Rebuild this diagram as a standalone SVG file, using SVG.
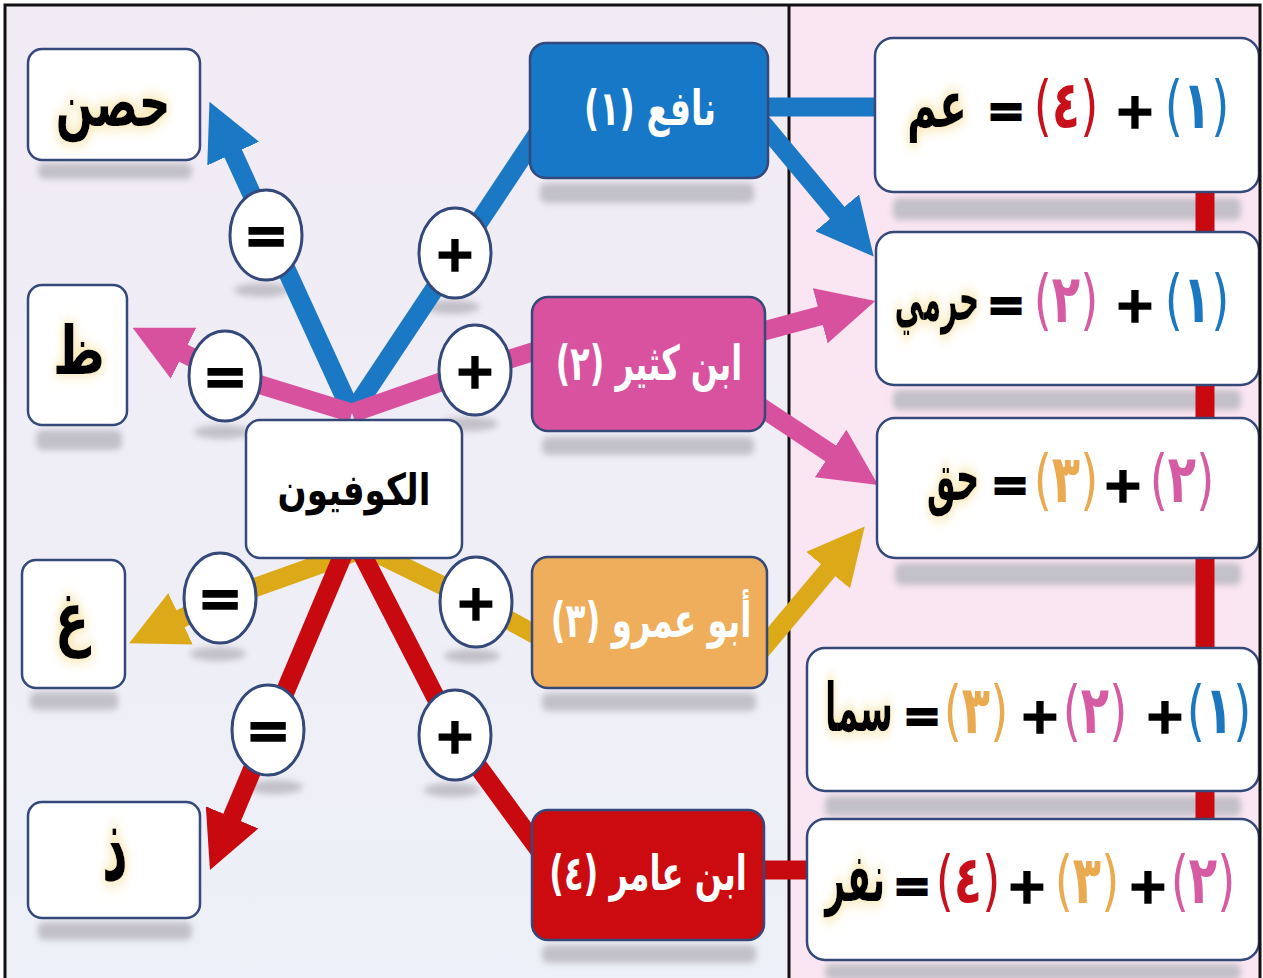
<svg xmlns="http://www.w3.org/2000/svg" width="1263" height="978" viewBox="0 0 1263 978">
<defs>
<style>
.ar{font-family:"DejaVu Sans",sans-serif;font-weight:bold;text-anchor:middle}
.blk{fill:#000}
.wht{fill:#fff}
.wbox{fill:#fff;stroke:#34487a;stroke-width:2.5}
.cbox{stroke:#34487a;stroke-width:2.5}
.shd{fill:#c2c0c8;filter:url(#blur)}
.cir{fill:#fff;stroke:#34487a;stroke-width:3}
.op{font-family:"DejaVu Sans",sans-serif;font-weight:bold;text-anchor:middle;fill:#000;stroke:#000;stroke-width:1.5}
.eq{font-family:"DejaVu Sans",sans-serif;font-weight:bold;text-anchor:middle;fill:#000;stroke:#000;stroke-width:2.2;font-size:46px}
.par{font-family:"DejaVu Sans",sans-serif;font-weight:normal;text-anchor:middle;font-size:58px}
.dg{font-weight:bold}
.ln{fill:none;stroke-width:19;stroke-linejoin:round}
.bl{stroke:#1a78c4}
.pk{stroke:#d8519f}
.og{stroke:#dca919}
.rd{stroke:#c8090f}
.cb{fill:#1b78c0}
.cp{fill:#d55ba2}
.co{fill:#e9aa50}
.cr{fill:#c8101a}
</style>
<filter id="blur" x="-20%" y="-50%" width="140%" height="200%"><feGaussianBlur stdDeviation="3"/></filter>
<filter id="glow" x="-30%" y="-30%" width="160%" height="160%">
<feMorphology in="SourceAlpha" operator="dilate" radius="2" result="d"/>
<feGaussianBlur in="d" stdDeviation="5" result="b"/>
<feFlood flood-color="#f6e2a2" flood-opacity="0.8"/>
<feComposite in2="b" operator="in" result="g"/>
<feMerge><feMergeNode in="g"/><feMergeNode in="SourceGraphic"/></feMerge>
</filter>
<linearGradient id="bgL" x1="0" y1="0" x2="0" y2="1"><stop offset="0" stop-color="#f1ebf4"/><stop offset="1" stop-color="#edf0f8"/></linearGradient>
<marker id="mb" viewBox="0 0 10 10" refX="0.5" refY="5" markerWidth="3" markerHeight="3" orient="auto" markerUnits="strokeWidth"><path d="M0,0 L10,5 L0,10 z" fill="#1a78c4"/></marker>
<marker id="mp" viewBox="0 0 10 10" refX="0.5" refY="5" markerWidth="3" markerHeight="3" orient="auto" markerUnits="strokeWidth"><path d="M0,0 L10,5 L0,10 z" fill="#d8519f"/></marker>
<marker id="mo" viewBox="0 0 10 10" refX="0.5" refY="5" markerWidth="3" markerHeight="3" orient="auto" markerUnits="strokeWidth"><path d="M0,0 L10,5 L0,10 z" fill="#dca919"/></marker>
<marker id="mr" viewBox="0 0 10 10" refX="0.5" refY="5" markerWidth="3" markerHeight="3" orient="auto" markerUnits="strokeWidth"><path d="M0,0 L10,5 L0,10 z" fill="#c8090f"/></marker>
</defs>

<rect x="0" y="0" width="1263" height="978" fill="#fff"/>
<rect x="5" y="5" width="784" height="980" fill="url(#bgL)"/>
<rect x="789" y="5" width="471" height="980" fill="#fae6f2"/>
<line x1="789" y1="5" x2="789" y2="978" stroke="#111" stroke-width="3"/>

<g id="shadows">
<rect class="shd" x="38" y="163" width="154" height="16" rx="6"/>
<rect class="shd" x="36" y="430" width="86" height="20" rx="6"/>
<rect class="shd" x="30" y="692" width="88" height="18" rx="6"/>
<rect class="shd" x="38" y="922" width="154" height="18" rx="6"/>
<rect class="shd" x="540" y="183" width="214" height="20" rx="6"/>
<rect class="shd" x="542" y="437" width="212" height="18" rx="6"/>
<rect class="shd" x="542" y="693" width="214" height="18" rx="6"/>
<rect class="shd" x="542" y="945" width="214" height="18" rx="6"/>
<rect class="shd" x="893" y="198" width="348" height="22" rx="6"/>
<rect class="shd" x="893" y="390" width="348" height="20" rx="6"/>
<rect class="shd" x="895" y="563" width="346" height="22" rx="6"/>
<rect class="shd" x="825" y="796" width="416" height="20" rx="6"/>
<rect class="shd" x="825" y="964" width="416" height="16" rx="6"/>
<ellipse class="shd" cx="262" cy="290" rx="28" ry="7"/>
<ellipse class="shd" cx="452" cy="307" rx="28" ry="7"/>
<ellipse class="shd" cx="222" cy="432" rx="28" ry="7"/>
<ellipse class="shd" cx="470" cy="424" rx="28" ry="7"/>
<ellipse class="shd" cx="218" cy="654" rx="28" ry="7"/>
<ellipse class="shd" cx="472" cy="656" rx="28" ry="7"/>
<ellipse class="shd" cx="275" cy="787" rx="28" ry="7"/>
<ellipse class="shd" cx="452" cy="790" rx="28" ry="7"/>
</g>

<g id="connectors">
<line class="ln rd" x1="1205" y1="185" x2="1205" y2="825" stroke-width="14"/>
<polyline class="ln bl" points="352,413 232,151" marker-end="url(#mb)"/>
<polyline class="ln bl" points="352,413 560,100"/>
<polyline class="ln bl" points="755,107 880,107" stroke-width="21"/>
<polyline class="ln bl" points="758,118 839,215" marker-end="url(#mb)"/>
<polyline class="ln pk" points="352,413 225,374 181,352" marker-end="url(#mp)"/>
<polyline class="ln pk" points="352,413 475,370 545,348"/>
<polyline class="ln pk" points="760,332 823,315" marker-end="url(#mp)"/>
<polyline class="ln pk" points="756,404 833,455" marker-end="url(#mp)"/>
<polyline class="ln og" points="360,550 220,600 178,620" marker-end="url(#mo)"/>
<polyline class="ln og" points="370,550 476,602 545,640"/>
<polyline class="ln og" points="758,654 830,568" marker-end="url(#mo)"/>
<polyline class="ln rd" points="345,550 231,820" marker-end="url(#mr)"/>
<polyline class="ln rd" points="360,550 455,735 545,858"/>
<polyline class="ln rd" points="755,870 812,870" stroke-width="20"/>
</g>

<g id="connector-labels">
<g id="eq-hisn"><ellipse class="cir" cx="266" cy="235" rx="36" ry="45"/><text class="op" x="266" y="254" font-size="54">=</text></g>
<g id="plus-nafi"><ellipse class="cir" cx="455" cy="253" rx="36" ry="45"/><text class="op" x="455" y="271" font-size="50">+</text></g>
<g id="eq-tha"><ellipse class="cir" cx="225" cy="376" rx="36" ry="45"/><text class="op" x="225" y="395" font-size="54">=</text></g>
<g id="plus-kathir"><ellipse class="cir" cx="475" cy="370" rx="36" ry="45"/><text class="op" x="475" y="388" font-size="50">+</text></g>
<g id="eq-ghain"><ellipse class="cir" cx="220" cy="598" rx="36" ry="45"/><text class="op" x="220" y="617" font-size="54">=</text></g>
<g id="plus-amr"><ellipse class="cir" cx="476" cy="602" rx="36" ry="45"/><text class="op" x="476" y="620" font-size="50">+</text></g>
<g id="eq-dhal"><ellipse class="cir" cx="268" cy="730" rx="36" ry="45"/><text class="op" x="268" y="749" font-size="54">=</text></g>
<g id="plus-amir"><ellipse class="cir" cx="455" cy="735" rx="36" ry="45"/><text class="op" x="455" y="753" font-size="50">+</text></g>
</g>

<g id="n-hisn"><rect class="wbox" x="28" y="49" width="172" height="111" rx="14"/><text class="ar blk" transform="translate(113,126) scale(0.85,1.3)" font-size="52" filter="url(#glow)">حصن</text></g>
<g id="n-tha"><rect class="wbox" x="28" y="285" width="99" height="140" rx="14"/><text class="ar blk" transform="translate(79,374) scale(0.9,1.2)" font-size="56" filter="url(#glow)">ظ</text></g>
<g id="n-kufiyun"><rect class="wbox" x="246" y="420" width="216" height="138" rx="14"/><text class="ar blk" transform="translate(354,505) scale(0.9,1.15)" font-size="38">الكوفيون</text></g>
<g id="n-ghain"><rect class="wbox" x="22" y="560" width="103" height="128" rx="14"/><text class="ar blk" transform="translate(72,642) scale(0.9,1.25)" font-size="56" filter="url(#glow)">غ</text></g>
<g id="n-dhal"><rect class="wbox" x="28" y="802" width="172" height="116" rx="14"/><text class="ar blk" transform="translate(115,880) scale(0.9,1.6)" font-size="56" filter="url(#glow)">ذ</text></g>

<g id="n-nafi"><rect class="cbox" x="530" y="43" width="238" height="135" rx="16" fill="#1778c8"/><text class="ar wht" transform="translate(650,125) scale(0.9,1.3)" font-size="37" direction="rtl">نافع (١)</text></g>
<g id="n-ibnkathir"><rect class="cbox" x="532" y="297" width="233" height="134" rx="16" fill="#d9529f"/><text class="ar wht" transform="translate(649,380) scale(0.86,1.3)" font-size="37" direction="rtl">ابن كثير (٢)</text></g>
<g id="n-abuamr"><rect class="cbox" x="532" y="557" width="235" height="131" rx="16" fill="#eeae5b"/><text class="ar wht" transform="translate(651,637) scale(0.88,1.3)" font-size="37" direction="rtl">أبو عمرو (٣)</text></g>
<g id="n-ibnamir"><rect class="cbox" x="532" y="810" width="232" height="130" rx="16" fill="#cc0b10"/><text class="ar wht" transform="translate(648,890) scale(0.87,1.3)" font-size="37" direction="rtl">ابن عامر (٤)</text></g>

<g id="n-amm">
<rect class="wbox" x="875" y="38" width="384" height="154" rx="18"/>
<text class="par cb" transform="translate(1197,128) scale(0.8,1.15)">(<tspan class="dg">١</tspan>)</text>
<text class="op" x="1135" y="128" font-size="50">+</text>
<text class="par cr" transform="translate(1066,128) scale(0.8,1.15)">(<tspan class="dg">٤</tspan>)</text>
<text class="eq" x="1006" y="127">=</text>
<text class="ar blk" transform="translate(937,127) scale(0.82,1.3)" font-size="50" filter="url(#glow)">عم</text>
</g>
<g id="n-harami">
<rect class="wbox" x="876" y="232" width="383" height="153" rx="18"/>
<text class="par cb" transform="translate(1197,322) scale(0.8,1.15)">(<tspan class="dg">١</tspan>)</text>
<text class="op" x="1135" y="322" font-size="50">+</text>
<text class="par cp" transform="translate(1066,322) scale(0.8,1.15)">(<tspan class="dg">٢</tspan>)</text>
<text class="eq" x="1006" y="321">=</text>
<text class="ar blk" transform="translate(937,320) scale(0.62,1.35)" font-size="46" filter="url(#glow)">حرمي</text>
</g>
<g id="n-haqq">
<rect class="wbox" x="877" y="418" width="382" height="140" rx="18"/>
<text class="par cp" transform="translate(1182,502) scale(0.8,1.15)">(<tspan class="dg">٢</tspan>)</text>
<text class="op" x="1123" y="502" font-size="50">+</text>
<text class="par co" transform="translate(1066,502) scale(0.8,1.15)">(<tspan class="dg">٣</tspan>)</text>
<text class="eq" x="1010" y="501">=</text>
<text class="ar blk" transform="translate(953,500) scale(0.65,1.35)" font-size="50" filter="url(#glow)">حق</text>
</g>
<g id="n-sama">
<rect class="wbox" x="807" y="648" width="452" height="143" rx="18"/>
<text class="par cb" transform="translate(1219,733) scale(0.8,1.15)">(<tspan class="dg">١</tspan>)</text>
<text class="op" x="1165" y="733" font-size="50">+</text>
<text class="par cp" transform="translate(1095,733) scale(0.8,1.15)">(<tspan class="dg">٢</tspan>)</text>
<text class="op" x="1040" y="733" font-size="50">+</text>
<text class="par co" transform="translate(976,733) scale(0.8,1.15)">(<tspan class="dg">٣</tspan>)</text>
<text class="eq" x="922" y="732">=</text>
<text class="ar blk" transform="translate(859,731) scale(0.67,1.35)" font-size="50" filter="url(#glow)">سما</text>
</g>
<g id="n-nafar">
<rect class="wbox" x="807" y="819" width="452" height="141" rx="18"/>
<text class="par cp" transform="translate(1203,903) scale(0.8,1.15)">(<tspan class="dg">٢</tspan>)</text>
<text class="op" x="1148" y="903" font-size="50">+</text>
<text class="par co" transform="translate(1087,903) scale(0.8,1.15)">(<tspan class="dg">٣</tspan>)</text>
<text class="op" x="1027" y="903" font-size="50">+</text>
<text class="par cr" transform="translate(968,903) scale(0.8,1.15)">(<tspan class="dg">٤</tspan>)</text>
<text class="eq" x="912" y="902">=</text>
<text class="ar blk" transform="translate(855,901) scale(0.7,1.35)" font-size="50" filter="url(#glow)">نفر</text>
</g>

<path d="M5,978 L5,5 L1260,5 L1260,978" fill="none" stroke="#111" stroke-width="3"/>
</svg>
